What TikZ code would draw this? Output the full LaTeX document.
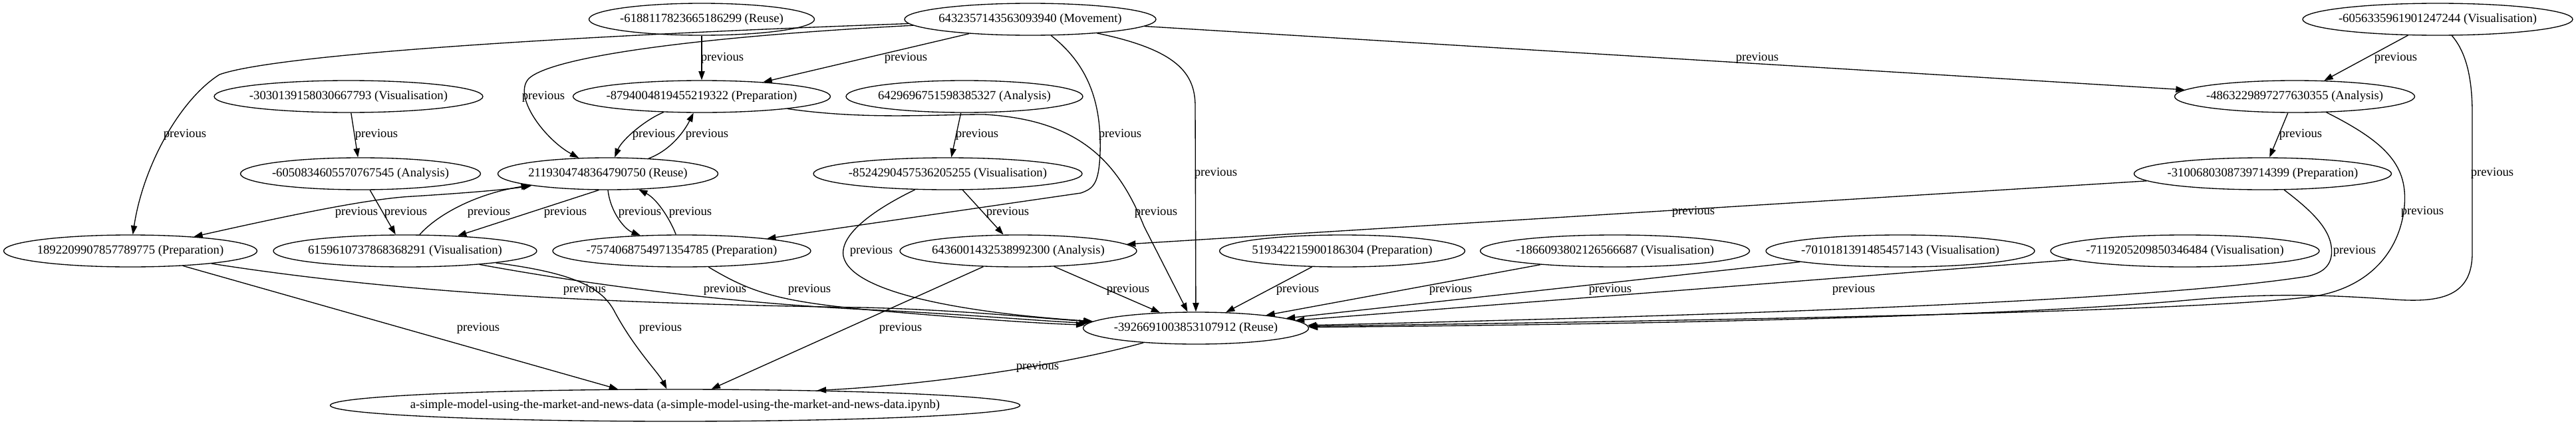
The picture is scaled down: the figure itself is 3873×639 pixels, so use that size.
\documentclass[tikz,border=0pt]{standalone}
\usepackage{fontspec}
\setmainfont{Liberation Serif}
\usetikzlibrary{shapes.geometric,arrows.meta}
\tikzset{
  gv/.style={draw, ellipse, line width=1pt, inner xsep=-40pt, inner ysep=0pt, minimum height=36pt, font=\fontsize{14pt}{16pt}\selectfont},
  ew/.style={minimum width=#1*0.75pt},
  edge/.style={draw, line width=1pt, -{Triangle[length=10pt,width=7pt]}},
  edgeboth/.style={draw, line width=1pt, {Triangle[length=10pt,width=7pt]}-{Triangle[length=10pt,width=7pt]}},
  lab/.style={inner sep=0pt, font=\fontsize{14pt}{16pt}\selectfont}
}
\begin{document}
\begin{tikzpicture}[x=0.75pt, y=-0.75pt]
\useasboundingbox (0,0) rectangle (3873,639);
% row 1
\node[gv, ew=339] (n6188) at (1055,29) {-6188117823665186299 (Reuse)};
\node[gv, ew=378] (n6432) at (1549,29) {6432357143563093940 (Movement)};
\node[gv, ew=406] (n6056) at (3665,29) {-6056335961901247244 (Visualisation)};
% row 2
\node[gv, ew=404] (n3030) at (524,145) {-3030139158030667793 (Visualisation)};
\node[gv, ew=387] (n8794) at (1055,145) {-8794004819455219322 (Preparation)};
\node[gv, ew=356] (n6429) at (1450,145) {6429696751598385327 (Analysis)};
\node[gv, ew=361] (n4863) at (3450,145) {-4863229897277630355 (Analysis)};
% row 3
\node[gv, ew=361] (n6050) at (542,261) {-6050834605570767545 (Analysis)};
\node[gv, ew=331] (n2119) at (914,261) {2119304748364790750 (Reuse)};
\node[gv, ew=404] (n8524) at (1425,261) {-8524290457536205255 (Visualisation)};
\node[gv, ew=387] (n3100) at (3402,261) {-3100680308739714399 (Preparation)};
% row 4
\node[gv, ew=381] (n1892) at (196,377) {1892209907857789775 (Preparation)};
\node[gv, ew=396] (n6159) at (609,377) {6159610737868368291 (Visualisation)};
\node[gv, ew=388] (n7574) at (1025,377) {-7574068754971354785 (Preparation)};
\node[gv, ew=356] (n6436) at (1531,377) {6436001432538992300 (Analysis)};
\node[gv, ew=369] (n5193) at (2018,377) {519342215900186304 (Preparation)};
\node[gv, ew=405] (n1866) at (2428,377) {-1866093802126566687 (Visualisation)};
\node[gv, ew=404] (n7010) at (2857,377) {-7010181391485457143 (Visualisation)};
\node[gv, ew=404] (n7119) at (3285,377) {-7119205209850346484 (Visualisation)};
% row 5
\node[gv, ew=339] (n3926) at (1798,493) {-3926691003853107912 (Reuse)};
% row 6
\node[gv, ew=1037] (nsimple) at (1015,609) {a-simple-model-using-the-market-and-news-data (a-simple-model-using-the-market-and-news-data.ipynb)};

% edges
\draw[edge] (n6432) .. controls (900,52) and (420,80) .. (330,112) .. controls (270,150) and (215,250) .. (n1892) node[lab, at={(278,202)}] {previous};
\draw[edge] (n6432) .. controls (1050,55) and (830,85) .. (795,118) .. controls (770,145) and (820,210) .. (n2119) node[lab, at={(817,145)}] {previous};
\draw[edge] (n6432) -- (n8794) node[lab, at={(1362,87)}] {previous};
\draw[edge] (n6188) -- (n8794) node[lab, at={(1086,87)}] {previous};
\draw[edge] (n6432) .. controls (1640,100) and (1656,160) .. (1654,230) .. controls (1652,275) and (1645,283) .. (1625,290) -- (n7574) node[lab, at={(1684,202)}] {previous};
\draw[edge] (n6432) .. controls (1770,75) and (1797,110) .. (1797,160) -- (n3926) node[lab, at={(1828,260)}] {previous};
\draw[edge] (n6432) -- (n4863) node[lab, at={(2642,87)}] {previous};
\draw[edge] (n6056) -- (n4863) node[lab, at={(3602,87)}] {previous};
\draw[edge] (n6056) .. controls (3705,75) and (3717,110) .. (3717,170) -- (3717,380) .. controls (3717,445) and (3670,455) .. (3600,450) .. controls (3500,443) and (3420,440) .. (3300,450) .. controls (3000,478) and (2400,488) .. (n3926) node[lab, at={(3747,260)}] {previous};
\draw[edge] (n4863) -- (n3100) node[lab, at={(3459,202)}] {previous};
\draw[edge] (n4863) .. controls (3590,215) and (3620,250) .. (3615,310) .. controls (3608,380) and (3560,432) .. (3480,445) .. controls (3300,470) and (2500,482) .. (n3926) node[lab, at={(3642,318)}] {previous};
\draw[edge] (n3100) .. controls (3480,320) and (3510,350) .. (3505,385) .. controls (3502,402) and (3490,410) .. (3470,415) .. controls (3200,458) and (2400,478) .. (n3926) node[lab, at={(3540,377)}] {previous};
\draw[edge] (n3100) -- (n6436) node[lab, at={(2546,318)}] {previous};
\draw[edge] (n6429) -- (n8524) node[lab, at={(1469,202)}] {previous};
\draw[edge] (n8794) .. controls (1300,180) and (1400,172) .. (1480,172) .. controls (1620,180) and (1680,240) .. (1720,340) -- (n3926) node[lab, at={(1738,319)}] {previous};
\draw[edge] (n8524) -- (n6436) node[lab, at={(1515,319)}] {previous};
\draw[edge] (n8524) .. controls (1320,312) and (1262,350) .. (1268,385) .. controls (1280,440) and (1450,470) .. (n3926) node[lab, at={(1310,377)}] {previous};
\draw[edge] (n6436) -- (n3926) node[lab, at={(1696,435)}] {previous};
\draw[edge] (n6436) -- (nsimple) node[lab, at={(1354,493)}] {previous};
\draw[edge] (n5193) -- (n3926) node[lab, at={(1951,435)}] {previous};
\draw[edge] (n1866) -- (n3926) node[lab, at={(2181,435)}] {previous};
\draw[edge] (n7010) -- (n3926) node[lab, at={(2421,435)}] {previous};
\draw[edge] (n7119) -- (n3926) node[lab, at={(2787,435)}] {previous};
\draw[edge] (n3926) .. controls (1600,548) and (1400,578) .. (nsimple.6) node[lab, at={(1560,551)}] {previous};
\draw[edge] (n1892) -- (nsimple) node[lab, at={(719,493)}] {previous};
\draw[edge] (n1892) .. controls (600,440) and (900,456) .. (1300,462) .. controls (1450,466) and (1560,478) .. (n3926) node[lab, at={(879,435)}] {previous};
\draw[edge] (n6159) .. controls (900,430) and (1100,455) .. (1300,465) .. controls (1450,472) and (1560,482) .. (n3926) node[lab, at={(1090,435)}] {previous};
\draw[edge] (n6159) .. controls (860,410) and (905,430) .. (925,470) .. controls (955,525) and (990,560) .. (nsimple) node[lab, at={(993,493)}] {previous};
\draw[edge] (n7574) .. controls (1130,440) and (1170,452) .. (1300,465) .. controls (1450,478) and (1560,486) .. (n3926) node[lab, at={(1217,435)}] {previous};
\draw[edge] (n7574) .. controls (1010,335) and (990,300) .. (n2119) node[lab, at={(1038,319)}] {previous};
\draw[edge] (n2119.south) .. controls (918,320) and (940,345) .. (n7574) node[lab, at={(962,319)}] {previous};
\draw[edge] (n2119) .. controls (1010,225) and (1030,195) .. (n8794) node[lab, at={(1063,202)}] {previous};
\draw[edge] (n8794) .. controls (970,180) and (935,210) .. (n2119) node[lab, at={(983,202)}] {previous};
\draw[edge] (n3030) -- (n6050) node[lab, at={(566,202)}] {previous};
\draw[edge] (n6050) -- (n6159) node[lab, at={(610,319)}] {previous};
\draw[edge] (n6159) .. controls (660,320) and (720,290) .. (n2119) node[lab, at={(735,319)}] {previous};
\draw[edge] (n2119.241) -- (n6159.16) node[lab, at={(850,319)}] {previous};
\draw[edgeboth] (n1892) .. controls (450,320) and (560,298) .. (620,295) .. controls (700,290) and (760,285) .. (n2119) node[lab, at={(536,319)}] {previous};
\end{tikzpicture}
\end{document}
